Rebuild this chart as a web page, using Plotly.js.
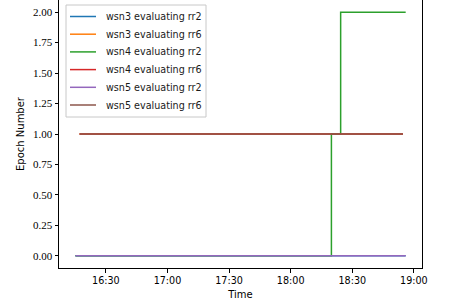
<!DOCTYPE html>
<html><head><meta charset="utf-8">
<script src="https://cdn.plot.ly/plotly-3.0.1.min.js"></script>
<style>body{margin:0;padding:0;background:#fff}#c{width:449px;height:307px}</style>
</head><body><div id="c"></div>
<script>
const seriesNames = ["wsn3 evaluating rr2","wsn3 evaluating rr6","wsn4 evaluating rr2","wsn4 evaluating rr6","wsn5 evaluating rr2","wsn5 evaluating rr6"];
const colors = ["#1f77b4","#ff7f0e","#2ca02c","#d62728","#9467bd","#8c564b"];
const d = "2019-01-01 ";
const wsn3_rr2_t = [d+"16:15:10", d+"18:56:00"];
const wsn3_rr2_y = [0, 0];
const wsn3_rr6_t = [d+"16:17:10", d+"18:54:40"];
const wsn3_rr6_y = [1, 1];
const wsn4_rr2_t = [d+"16:15:10", d+"18:19:50", d+"18:24:20", d+"18:56:00"];
const wsn4_rr2_y = [0, 1, 2, 2];
const wsn4_rr6_t = [d+"16:17:10", d+"18:54:40"];
const wsn4_rr6_y = [1, 1];
const wsn5_rr2_t = [d+"16:15:10", d+"18:56:00"];
const wsn5_rr2_y = [0, 0];
const wsn5_rr6_t = [d+"16:17:10", d+"18:54:40"];
const wsn5_rr6_y = [1, 1];
const yTickVals = [0,0.25,0.5,0.75,1,1.25,1.5,1.75,2];
const yTickText = ['0.00','0.25','0.50','0.75','1.00','1.25','1.50','1.75','2.00'];

const xs = [wsn3_rr2_t, wsn3_rr6_t, wsn4_rr2_t, wsn4_rr6_t, wsn5_rr2_t, wsn5_rr6_t];
const ys = [wsn3_rr2_y, wsn3_rr6_y, wsn4_rr2_y, wsn4_rr6_y, wsn5_rr2_y, wsn5_rr6_y];

const traces = seriesNames.map((n,i)=>({
  x: xs[i], y: ys[i], name: n, type: 'scatter', mode: 'lines',
  line: {color: colors[i], width: 1.5, shape: 'hv'}
}));

// custom legend (matplotlib-like) in paper coords
const L = 59, R = 27, T = 0, B = 39, W = 449, H = 307;
const pw = W - L - R, ph = H - T - B;
const px = v => (v - L) / pw;
const py = v => 1 - (v - T) / ph;
const shapes = [];
const annotations = [];
shapes.push({type:'rect', xref:'paper', yref:'paper', x0:px(66), x1:px(206), y0:py(5), y1:py(117),
  line:{color:'#c8c8c8', width:1}, fillcolor:'rgba(255,255,255,0.85)', layer:'above'});
seriesNames.forEach((n,i)=>{
  const yy = 16.5 + 17.7*i;
  shapes.push({type:'line', xref:'paper', yref:'paper', x0:px(70), x1:px(96), y0:py(yy), y1:py(yy),
    line:{color:colors[i], width:1.5}, layer:'above'});
  annotations.push({xref:'paper', yref:'paper', x:px(104), y:py(yy), xanchor:'left', yanchor:'middle',
    text:n, showarrow:false, font:{family:'DejaVu Sans', size:9.6, color:'#1a1a1a'}});
});

const layout = {
  width: W, height: H,
  margin: {l: L, r: R, t: T, b: B, pad: 0},
  paper_bgcolor: '#fff', plot_bgcolor: '#fff',
  showlegend: false,
  shapes: shapes, annotations: annotations,
  xaxis: {type: 'date', range: [d+"16:07:10", d+"19:03:57"],
    tickformat: '%H:%M', dtick: 1800000, tick0: d+"16:30:00",
    showgrid: false, zeroline: false, showline: true, mirror: true,
    linecolor: '#000', linewidth: 1, ticks: 'outside', ticklen: 3.5, tickcolor: '#000',
    tickfont: {family: 'DejaVu Sans', size: 9.6, color: '#000'},
    title: {text: 'Time', font: {family: 'DejaVu Sans', size: 10, color: '#000'}, standoff: 5}},
  yaxis: {range: [-0.1, 2.1], tickvals: yTickVals, ticktext: yTickText,
    showgrid: false, zeroline: false, showline: true, mirror: true,
    linecolor: '#000', linewidth: 1, ticks: 'outside', ticklen: 3.5, tickcolor: '#000',
    tickfont: {family: 'Liberation Serif', size: 11, color: '#000'},
    title: {text: 'Epoch Number', font: {family: 'DejaVu Sans', size: 10, color: '#000'}, standoff: 6}}
};
Plotly.newPlot('c', traces, layout, {staticPlot: true, displayModeBar: false});
</script></body></html>
